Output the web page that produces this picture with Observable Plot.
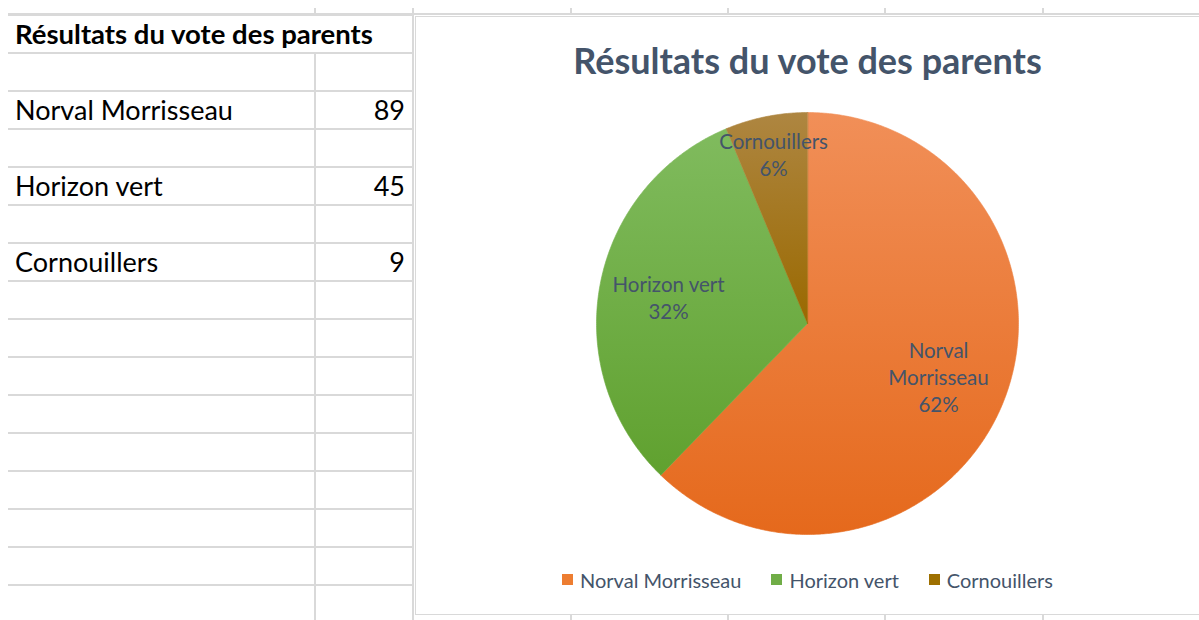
<!DOCTYPE html>
<html>
<head>
<meta charset="utf-8">
<script src="https://cdn.jsdelivr.net/npm/d3@7"></script>
<script src="https://cdn.jsdelivr.net/npm/@observablehq/plot@0.6"></script>
<style>
  html, body { margin: 0; padding: 0; background: #ffffff; }
  body { width: 1199px; height: 620px; position: relative; overflow: hidden; font-family: Lato, "Open Sans", sans-serif; }
  .gl { position: absolute; background: #d9d9d9; }
  #sheet { position: absolute; left: 8px; top: 14px; border-collapse: collapse; table-layout: fixed; }
  #sheet td { height: 36px; padding: 0 7px; border-top: 2px solid #d9d9d9; font-size: 27px; line-height: 36px; color: #000; white-space: nowrap; overflow: visible; }
  #sheet td.num { text-align: right; border-left: 2px solid #d9d9d9; border-right: 2px solid #d9d9d9; }
  #sheet td.ttl { font-weight: bold; border-right: 2px solid #d9d9d9; font-size: 27.5px; }
  #chartbox { position: absolute; left: 415px; top: 16px; width: 800px; height: 597px; background: #fff; border: 1px solid #d9d9d9; }
  #ctitle { position: absolute; left: 0; top: 23px; width: 783px; text-align: center; font: bold 36px Lato, sans-serif; line-height: 40px; color: #44546A; }
  #pie { position: absolute; left: 0; top: 0; }
  #legend { position: absolute; left: 0; top: 546px; width: 783px; display: flex; justify-content: center; }
  .lg-swatches { justify-content: center; }
  .lg-swatch { margin-right: 30px !important; }
  .lg-swatch:last-child { margin-right: 0 !important; }
  .lg-swatch svg { margin-right: 7px !important; }
</style>
</head>
<body>
<script>
// ---- data ----
const names = ["Norval Morrisseau", "Horizon vert", "Cornouillers"];
const votes = [89, 45, 9];
const percentLabels = ["62%", "32%", "6%"];
const sheetTitle = "Résultats du vote des parents";
const chartTitle = "Résultats du vote des parents";
const colors = ["#ED7D31", "#70AD47", "#9E7000"];
const gradTop = ["#F18F58", "#80BB5E", "#AE8641"];
const gradBottom = ["#E5691C", "#60A12F", "#9A6900"];

// ---- spreadsheet frame ----
function line(x, y, w, h) {
  const d = document.createElement("div");
  d.className = "gl";
  Object.assign(d.style, {left: x + "px", top: y + "px", width: w + "px", height: h + "px"});
  document.body.appendChild(d);
}
line(8, 13, 1191, 2);
[315, 413, 571, 728, 885, 1043].forEach(x => line(x - 1, 8, 2, 6));

const table = document.createElement("table");
table.id = "sheet";
const colg = document.createElement("colgroup");
colg.innerHTML = '<col style="width:307px"><col style="width:98px">';
table.appendChild(colg);
const rows = [];
rows.push({title: sheetTitle});
names.forEach((n, i) => { rows.push({}); rows.push({label: n, value: votes[i]}); });
while (rows.length < 16) rows.push({});
rows.forEach(r => {
  const tr = document.createElement("tr");
  if (r.title) {
    const td = document.createElement("td");
    td.colSpan = 2; td.className = "ttl"; td.textContent = r.title;
    tr.appendChild(td);
  } else {
    const a = document.createElement("td");
    a.textContent = r.label || "";
    const b = document.createElement("td");
    b.className = "num"; b.textContent = r.value != null ? r.value : "";
    tr.appendChild(a); tr.appendChild(b);
  }
  table.appendChild(tr);
});
document.body.appendChild(table);

[571, 728, 885, 1043].forEach(x => line(x - 1, 614, 2, 6));

// ---- chart box ----
const box = document.createElement("div");
box.id = "chartbox";
document.body.appendChild(box);
const ttl = document.createElement("div");
ttl.id = "ctitle"; ttl.textContent = chartTitle;
box.appendChild(ttl);

const total = d3.sum(votes);
let acc = 0;
const slices = names.map((name, i) => {
  const a0 = acc / total * 2 * Math.PI;
  acc += votes[i];
  const a1 = acc / total * 2 * Math.PI;
  return {name, i, a0, a1, share: votes[i] / total};
});
const pts = slices.flatMap(s => {
  const n = Math.max(2, Math.ceil((s.a1 - s.a0) / (Math.PI / 360)));
  const arr = [{name: s.name, x: 0, y: 0}];
  for (let k = 0; k <= n; k++) {
    const a = s.a0 + (s.a1 - s.a0) * k / n;
    arr.push({name: s.name, x: Math.sin(a), y: Math.cos(a)});
  }
  return arr;
});
// best-fit style label placement: small slices push the label outward
const labels = slices.map(s => {
  const mid = (s.a0 + s.a1) / 2;
  const f = 0.67 + 1.7 * Math.max(0, 0.15 - s.share);
  const nm = s.name.length > 14 ? s.name.replace(" ", "\n") : s.name;
  return {x: f * Math.sin(mid), y: f * Math.cos(mid), text: nm + "\n" + percentLabels[s.i]};
});

const W = 783, H = 597;
const pie = Plot.plot({
  width: W, height: H,
  marginLeft: 180, marginRight: 181, marginTop: 95, marginBottom: 80,
  x: {domain: [-1, 1], axis: null},
  y: {domain: [-1, 1], axis: null},
  style: {background: "transparent", overflow: "visible"},
  marks: [
    ...slices.map(s => Plot.line(pts.filter(p => p.name === s.name), {
      x: "x", y: "y", curve: "linear-closed",
      fill: `url(#grad${s.i})`, stroke: `url(#grad${s.i})`, strokeWidth: 0.6
    })),
    Plot.text(labels, {
      x: "x", y: "y", text: "text", fill: "#44546A",
      fontSize: 20.5, lineHeight: 1.32, fontFamily: "Lato"
    })
  ]
});
pie.id = "pie";
const defs = d3.select(pie).insert("defs", ":first-child");
slices.forEach(s => {
  const g = defs.append("linearGradient").attr("id", `grad${s.i}`)
    .attr("x1", 0).attr("y1", 0).attr("x2", 0).attr("y2", 1);
  g.append("stop").attr("offset", "0%").attr("stop-color", gradTop[s.i]);
  g.append("stop").attr("offset", "100%").attr("stop-color", gradBottom[s.i]);
});
box.appendChild(pie);

const lg = document.createElement("div");
lg.id = "legend";
const legend = Plot.legend({
  color: {domain: names, range: colors},
  legend: "swatches",
  swatchSize: 11,
  className: "lg",
  style: {fontSize: "20px", fontFamily: "Lato", color: "#44546A"}
});
lg.appendChild(legend);
box.appendChild(lg);
</script>
</body>
</html>
